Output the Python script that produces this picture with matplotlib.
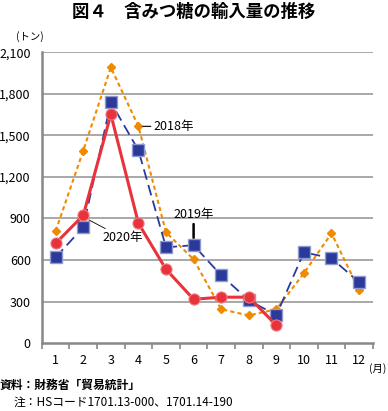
import matplotlib as mpl
import matplotlib.pyplot as plt

mpl.rcParams['font.family'] = ['Noto Sans CJK JP', 'DejaVu Sans']
mpl.rcParams['axes.unicode_minus'] = False

months = [1, 2, 3, 4, 5, 6, 7, 8, 9, 10, 11, 12]
y2018 = [810, 1390, 1990, 1565, 800, 605, 245, 200, 245, 505, 793, 385]
y2019 = [620, 837, 1738, 1392, 692, 707, 490, 310, 202, 656, 613, 440]
months2020 = [1, 2, 3, 4, 5, 6, 7, 8, 9]
y2020 = [721, 923, 1651, 865, 533, 317, 332, 332, 130]
yticks = [0, 300, 600, 900, 1200, 1500, 1800, 2100]

fig = plt.figure(figsize=(3.88, 4.11), dpi=100)
ax = fig.add_axes([0.108, 0.165, 0.853, 0.708])

# 目盛り線
for v in yticks[1:]:
    ax.axhline(v, color='#999999', lw=1.2, zorder=0)

ax.plot(months, y2018, color='#f08a00', ls=(0, (2, 1.5)), lw=1.5, marker='D',
        ms=4.5, mfc='#f08a00', mec='#f08a00', zorder=3)
ax.plot(months, y2019, color='#2b3a9a', ls=(0, (6, 3)), lw=1.3, marker='s',
        ms=8, mfc='#2b3a9a', mec='#8f9bd0', mew=1, zorder=4)
ax.plot(months2020, y2020, color='#e8333c', ls='-', lw=2.2, marker='o',
        ms=8, mfc='#e8333c', mec='#f07a80', mew=0.8, zorder=5)

ax.set_xlim(0.5, 12.5)
ax.set_ylim(0, 2100)
ax.set_yticks(yticks)
ax.set_yticklabels(['0', '300', '600', '900', '1,200', '1,500', '1,800', '2,100'])
ax.set_xticks(months)
ax.set_xticklabels([str(m) for m in months])
ax.set_xticks([m + 0.5 for m in range(0, 13)], minor=True)
ax.tick_params(axis='x', which='major', length=0, labelsize=9, pad=8)
ax.tick_params(axis='x', which='minor', length=4, width=1.2, color='#888888', direction='out')
ax.tick_params(axis='y', length=0, labelsize=9, pad=8)
for s in ['top', 'right']:
    ax.spines[s].set_visible(False)
for s in ['left', 'bottom']:
    ax.spines[s].set_color('#888888')
    ax.spines[s].set_linewidth(1.8)

# 系列ラベル
ax.annotate('2018年', xy=(4, 1565), xytext=(4.55, 1565), fontsize=9, va='center',
            arrowprops=dict(arrowstyle='-', color='black', lw=0.8, shrinkA=0, shrinkB=3))
ax.annotate('2019年', xy=(6, 760), xytext=(6, 880), fontsize=9, ha='center', va='bottom',
            arrowprops=dict(arrowstyle='-', color='black', lw=1.8, shrinkA=0, shrinkB=0))
ax.annotate('2020年', xy=(2.2, 890), xytext=(2.7, 760), fontsize=9, va='center',
            arrowprops=dict(arrowstyle='-', color='black', lw=0.6, shrinkA=0, shrinkB=0))

fig.text(0.5, 0.972, '図４　含みつ糖の輸入量の推移', ha='center', va='center',
         fontsize=12.5, fontweight='bold')
fig.text(0.04, 0.912, '(トン)', ha='left', va='center', fontsize=7.5)
fig.text(0.997, 0.104, '(月)', ha='right', va='center', fontsize=7.5)
fig.text(0.0, 0.063, '資料：財務省「貿易統計」', ha='left', va='center', fontsize=8.5,
         fontweight='bold')
fig.text(0.035, 0.02, '注：HSコード1701.13-000、1701.14-190', ha='left', va='center',
         fontsize=8.5)

plt.savefig('out.png', dpi=100)
